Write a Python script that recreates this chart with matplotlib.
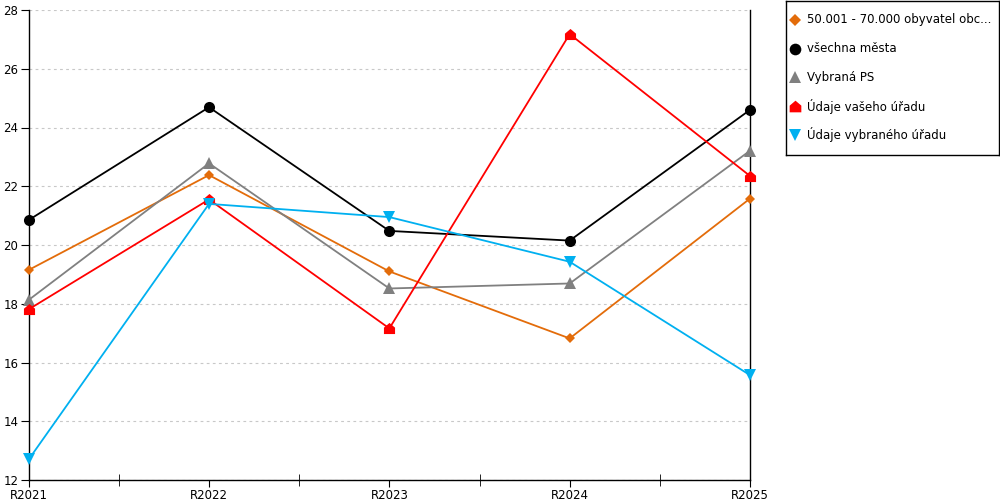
import matplotlib.pyplot as plt
from matplotlib.path import Path

years = ["R2021", "R2022", "R2023", "R2024", "R2025"]

obce_50_70k = [19.15, 22.38, 19.10, 16.82, 21.58]
vsechna_mesta = [20.85, 24.69, 20.48, 20.15, 24.60]
vybrana_ps = [18.13, 22.78, 18.52, 18.69, 23.21]
vas_urad = [17.81, 21.55, 17.16, 27.18, 22.35]
vybrany_urad = [12.70, 21.40, 20.95, 19.43, 15.57]

labels = [
    "50.001 - 70.000 obyvatel obc...",
    "všechna města",
    "Vybraná PS",
    "Údaje vašeho úřadu",
    "Údaje vybraného úřadu",
]

# house shaped marker for the office series
house = Path([(-1, -1), (1, -1), (1, 0.15), (0, 1), (-1, 0.15), (-1, -1)],
             [Path.MOVETO, Path.LINETO, Path.LINETO, Path.LINETO, Path.LINETO, Path.CLOSEPOLY])

series = [
    (obce_50_70k, "#E36C0A", "D", 5.5),
    (vsechna_mesta, "#000000", "o", 8),
    (vybrana_ps, "#808080", "^", 8),
    (vas_urad, "#FF0000", house, 8),
    (vybrany_urad, "#00B0F0", "v", 8),
]

plt.rcParams["font.family"] = ["DejaVu Sans"]
plt.rcParams["font.size"] = 8.5

fig = plt.figure(figsize=(10, 5), dpi=100)
ax = fig.add_axes([0.0287, 0.04, 0.7213, 0.94])

x = list(range(len(years)))
for (vals, color, marker, ms), label in zip(series, labels):
    ax.plot(x, vals, color=color, lw=1.3, marker=marker, ms=ms,
            markeredgewidth=0, label=label, clip_on=False, zorder=3)

ax.set_xlim(0, 4)
ax.set_ylim(12, 28)
ax.set_yticks(range(12, 29, 2))
ax.set_xticks(x)
ax.set_xticklabels(years)
ax.set_xticks([0.5, 1.5, 2.5, 3.5], minor=True)
ax.tick_params(axis="x", which="major", length=5, direction="out", color="black", pad=1.5)
ax.tick_params(axis="x", which="minor", length=8, direction="inout", color="black")
ax.tick_params(axis="y", length=6, direction="out", color="black", pad=1.5)
ax.yaxis.grid(True, color="#C8C8C8", linestyle=(0, (2.5, 3)), lw=0.8)
ax.set_axisbelow(True)

ax.spines["top"].set_visible(False)
for side in ["left", "right", "bottom"]:
    ax.spines[side].set_color("black")
    ax.spines[side].set_linewidth(1.0)

# legend box drawn by hand so that spacing matches
lax = fig.add_axes([0.786, 0.69, 0.213, 0.308])
lax.set_xlim(0, 1)
lax.set_ylim(0, 1)
lax.set_xticks([])
lax.set_yticks([])
for s in lax.spines.values():
    s.set_color("black")
    s.set_linewidth(1.0)
for i, ((vals, color, marker, ms), label) in enumerate(zip(series, labels)):
    yy = 0.877 - i * 0.1866
    lax.plot([0.042], [yy], color=color, marker=marker, ms=ms * 1.05,
             markeredgewidth=0, linestyle="none")
    lax.text(0.099, yy, label, fontsize=8.5, va="center", ha="left")

fig.savefig("out.png", dpi=100)
